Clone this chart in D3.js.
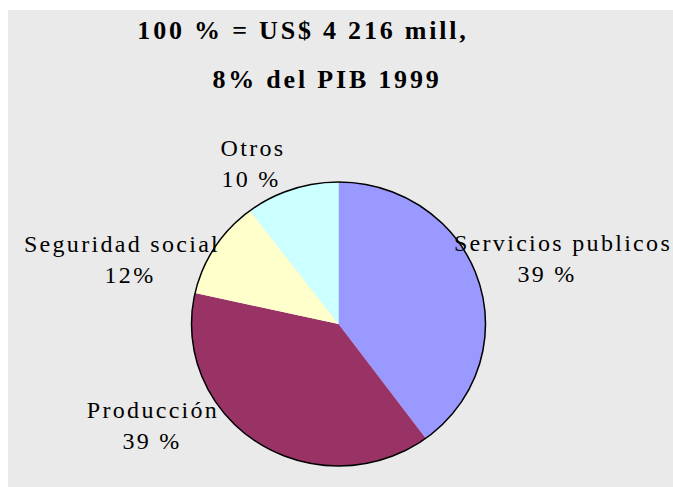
<!DOCTYPE html>
<html>
<head>
<meta charset="utf-8">
<script src="https://cdn.jsdelivr.net/npm/d3@7"></script>
<style>
  body { margin: 0; background: #fff; }
</style>
</head>
<body>
<div id="chart"></div>
<script>
// data (shares of 100 %)
var categories = ["Servicios publicos", "Producción", "Seguridad social", "Otros"];
var values = [39.9, 38.6, 11.2, 10.3];
var pctLabels = ["39 %", "39 %", "12%", "10 %"];
var colors = ["#9999FF", "#993366", "#FFFFCC", "#CCFFFF"];
var titleLines = ["100 % = US$ 4 216 mill,", "8% del PIB 1999"];

var width = 673, height = 487;
var cx = 338.5, cy = 324, rx = 147, ry = 142;
var serif = "'Liberation Serif', 'Times New Roman', Times, serif";

// label anchor points (center of each two-line label, first baseline)
var labelPos = [
  {x: 563, y: 251, x2: 547},
  {x: 153, y: 418, x2: 152},
  {x: 122, y: 252, x2: 130},
  {x: 253, y: 156, x2: 251}
];

var svg = d3.select("#chart")
            .append("svg")
            .attr("width", width)
            .attr("height", height)

svg.append("rect")
   .attr("x", 8).attr("y", 10)
   .attr("width", width - 8).attr("height", height - 10)
   .attr("fill", "#EAEAEA")

// title
svg.selectAll("text.title")
   .data(titleLines)
   .enter().append("text")
   .attr("class", "title")
   .attr("x", function(d, i){ return i == 0 ? 303 : 327 })
   .attr("y", function(d, i){ return 39 + i * 49 })
   .attr("text-anchor", "middle")
   .attr("font-family", serif)
   .attr("font-size", 26)
   .attr("font-weight", "bold")
   .attr("letter-spacing", 2.8)
   .text(function(d){ return d })

var pie = d3.pie().sort(null).value(function(d){ return d })
var arc = d3.arc().innerRadius(0).outerRadius(rx)

var g = svg.append("g")
           .attr("transform", "translate(" + cx + "," + cy + ") scale(1," + (ry / rx) + ")")

g.selectAll("path")
 .data(pie(values))
 .enter().append("path")
   .attr("d", arc)
   .attr("fill", function(d, i){ return colors[i] })

g.append("circle")
 .attr("r", rx)
 .attr("fill", "none")
 .attr("stroke", "#000")
 .attr("stroke-width", 1.5)

// labels
var lab = svg.selectAll("g.lab")
             .data(categories)
             .enter().append("g").attr("class", "lab")
             .attr("font-family", serif)
             .attr("font-size", 24)
             .attr("letter-spacing", 2.3)
lab.append("text")
   .attr("x", function(d, i){ return labelPos[i].x })
   .attr("y", function(d, i){ return labelPos[i].y })
   .attr("text-anchor", "middle")
   .text(function(d){ return d })
lab.append("text")
   .attr("x", function(d, i){ return labelPos[i].x2 })
   .attr("y", function(d, i){ return labelPos[i].y + 31 })
   .attr("text-anchor", "middle")
   .text(function(d, i){ return pctLabels[i] })
</script>
</body>
</html>
